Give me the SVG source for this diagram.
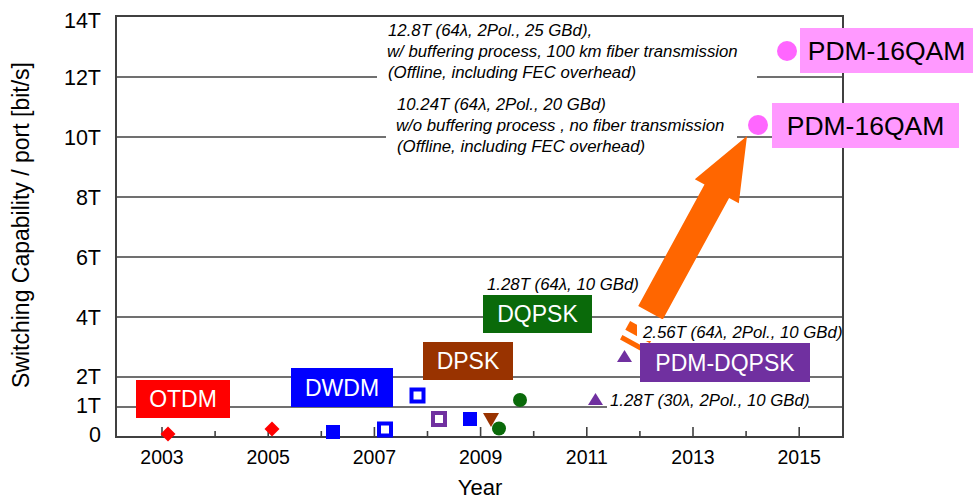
<svg xmlns="http://www.w3.org/2000/svg" width="976" height="499" viewBox="0 0 976 499">
<style>
text{font-family:"Liberation Sans",Arial,sans-serif;fill:#000}
.grid{stroke:#404040;stroke-width:1.6;fill:none}
.tick{stroke:#404040;stroke-width:1.6}
.ylab{font-size:21.5px;text-anchor:end}
.xlab{font-size:19.5px;text-anchor:middle}
.note{font-size:16.8px;font-style:italic}
.box{font-size:23px;text-anchor:middle;fill:#fff}
.pbox{font-size:26.5px;text-anchor:middle;fill:#000}
</style>
<rect width="976" height="499" fill="#fff"/>
<g id="axes">
<g class="grid">
<line x1="116" y1="77" x2="377" y2="77"/><line x1="757" y1="77" x2="843" y2="77"/>
<line x1="116" y1="137" x2="386" y2="137"/><line x1="737" y1="137" x2="843" y2="137"/>
<line x1="116" y1="197" x2="843" y2="197"/>
<line x1="116" y1="257" x2="843" y2="257"/>
<line x1="116" y1="317" x2="843" y2="317"/>
<line x1="116" y1="377" x2="843" y2="377"/>
<line x1="116" y1="407" x2="607" y2="407"/><line x1="808" y1="407" x2="843" y2="407"/>
</g>
<rect x="116" y="16" width="727" height="421" fill="none" stroke="#404040" stroke-width="2"/>
<g class="tick">
<line x1="162" y1="427" x2="162" y2="437"/><line x1="215.1" y1="431" x2="215.1" y2="437"/>
<line x1="268.2" y1="427" x2="268.2" y2="437"/><line x1="321.3" y1="431" x2="321.3" y2="437"/>
<line x1="374.4" y1="427" x2="374.4" y2="437"/><line x1="427.5" y1="431" x2="427.5" y2="437"/>
<line x1="480.6" y1="427" x2="480.6" y2="437"/><line x1="533.7" y1="431" x2="533.7" y2="437"/>
<line x1="586.8" y1="427" x2="586.8" y2="437"/><line x1="639.9" y1="431" x2="639.9" y2="437"/>
<line x1="693" y1="427" x2="693" y2="437"/><line x1="746.1" y1="431" x2="746.1" y2="437"/>
<line x1="799.2" y1="427" x2="799.2" y2="437"/>
</g>
<text class="ylab" x="101" y="28">14T</text>
<text class="ylab" x="101" y="85">12T</text>
<text class="ylab" x="101" y="145">10T</text>
<text class="ylab" x="101" y="205">8T</text>
<text class="ylab" x="101" y="265">6T</text>
<text class="ylab" x="101" y="325">4T</text>
<text class="ylab" x="101" y="384">2T</text>
<text class="ylab" x="101" y="413">1T</text>
<text class="ylab" x="101" y="442">0</text>
<text class="xlab" x="162" y="464">2003</text>
<text class="xlab" x="268.2" y="464">2005</text>
<text class="xlab" x="374.4" y="464">2007</text>
<text class="xlab" x="480.6" y="464">2009</text>
<text class="xlab" x="586.8" y="464">2011</text>
<text class="xlab" x="693" y="464">2013</text>
<text class="xlab" x="799.2" y="464">2015</text>
<text x="480" y="495" font-size="22" text-anchor="middle">Year</text>
<text transform="translate(29,225) rotate(-90)" font-size="23" text-anchor="middle">Switching Capability / port [bit/s]</text>
</g>
<g id="connectors">
<polygon fill="#FF6600" points="638.2,306.1 704.5,184.5 694.8,179.2 747,136 738.8,203.2 729.1,197.9 662.8,319.5"/>
<polygon fill="#FF6600" points="630.1,321 654.6,334.4 649.9,343.2 625.3,329.8"/>
<polygon fill="#FF6600" points="622.4,335.1 647,348.5 644.6,352.9 620,339.4"/>
<rect x="637" y="319" width="205" height="22" fill="#fff"/>
</g>
<g id="markers">
<polygon fill="#FF0000" points="168,426.5 175.5,434 168,441.5 160.5,434"/>
<polygon fill="#FF0000" points="272,421.5 279.5,429 272,436.5 264.5,429"/>
<rect x="326" y="425" width="14" height="14" fill="#0000FF"/>
<rect x="463" y="412" width="14" height="14" fill="#0000FF"/>
<rect x="379" y="423.5" width="12" height="12" fill="none" stroke="#0000FF" stroke-width="4"/>
<rect x="411.5" y="389.5" width="12" height="12" fill="none" stroke="#0000FF" stroke-width="4"/>
<rect x="433" y="413" width="12" height="12" fill="none" stroke="#7030A0" stroke-width="4"/>
<polygon fill="#993300" points="483,413 499,413 491,427"/>
<circle cx="499" cy="428.5" r="7" fill="#0A6A0A"/>
<circle cx="520" cy="400" r="7" fill="#0A6A0A"/>
<polygon fill="#7030A0" points="588,405 603,405 595.5,393"/>
<polygon fill="#7030A0" points="617,362 632,362 624.5,350"/>
<circle cx="787" cy="51" r="10" fill="#FF66FF"/>
<circle cx="758" cy="125" r="10" fill="#FF66FF"/>
</g>
<g id="otdm"><rect x="136" y="380" width="94" height="38" fill="#FF0000"/><text class="box" x="183" y="407">OTDM</text></g>
<g id="dwdm"><rect x="291" y="368" width="102" height="39" fill="#0000FF"/><text class="box" x="342" y="396">DWDM</text></g>
<g id="dpsk"><rect x="423" y="342" width="90" height="38" fill="#993300"/><text class="box" x="468" y="369">DPSK</text></g>
<g id="dqpsk"><rect x="483" y="295" width="109" height="38" fill="#0A6A0A"/><text class="box" x="537.5" y="322">DQPSK</text></g>
<g id="pdm-dqpsk"><rect x="640" y="343" width="170" height="39" fill="#7030A0"/><text class="box" x="725" y="371">PDM-DQPSK</text></g>
<g id="pdm-16qam-1"><rect x="800" y="28" width="173" height="45" fill="#FF99FF"/><text class="pbox" x="886.5" y="60">PDM-16QAM</text></g>
<g id="pdm-16qam-2"><rect x="772" y="103" width="187" height="45" fill="#FF99FF"/><text class="pbox" x="865.5" y="135">PDM-16QAM</text></g>
<g id="notes">
<text class="note" x="388" y="36">12.8T (64λ, 2Pol., 25 GBd),</text>
<text class="note" x="387" y="57">w/ buffering process, 100 km fiber transmission</text>
<text class="note" x="388" y="78">(Offline, including FEC overhead)</text>
<text class="note" x="397" y="110">10.24T (64λ, 2Pol., 20 GBd)</text>
<text class="note" x="396" y="131">w/o buffering process , no fiber transmission</text>
<text class="note" x="397" y="152">(Offline, including FEC overhead)</text>
<text class="note" x="487" y="290">1.28T (64λ, 10 GBd)</text>
<text class="note" x="643" y="338">2.56T (64λ, 2Pol., 10 GBd)</text>
<text class="note" x="610" y="406">1.28T (30λ, 2Pol., 10 GBd)</text>
</g>
</svg>
